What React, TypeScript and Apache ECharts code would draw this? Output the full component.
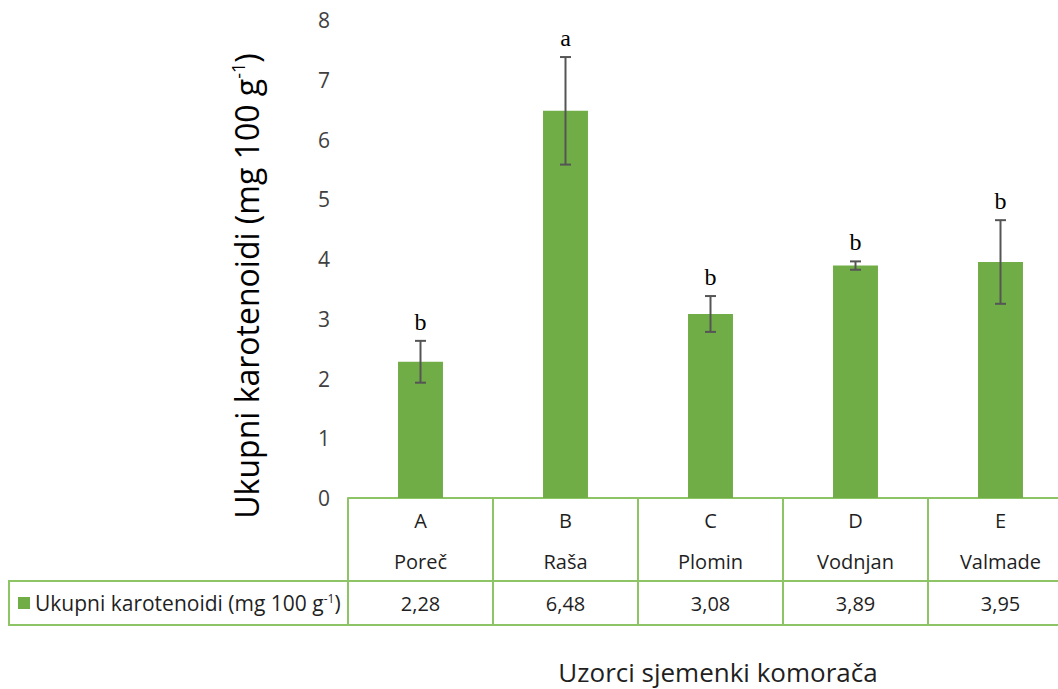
import React, { useEffect, useRef } from "react";
import * as echarts from "echarts";

const categories = ["A", "B", "C", "D", "E"];
const sites = ["Poreč", "Raša", "Plomin", "Vodnjan", "Valmade"];
const values = [2.28, 6.48, 3.08, 3.89, 3.95];
const errors = [0.35, 0.9, 0.3, 0.07, 0.7];
const letters = ["b", "a", "b", "b", "b"];
const seriesName = "Ukupni karotenoidi (mg 100 g";

const BAR = "#70AD47";
const BORDER = "#8cc466";
const ERR = "#555555";
const TXT = "#1f1f1f";
const NARROW = "'Liberation Sans Narrow', 'Open Sans', sans-serif";
const SANS = "'Open Sans', 'DejaVu Sans', sans-serif";
const SERIF = "'Liberation Serif', 'DejaVu Serif', serif";

const fmt = (v: number) => v.toFixed(2).replace(".", ",");

export default function App() {
  const ref = useRef<HTMLDivElement>(null);
  useEffect(() => {
    document.body.style.margin = "0";
    document.body.style.overflow = "hidden";
    const chart = echarts.init(ref.current!, null, { renderer: "svg" });
    const option: any = {
      animation: false,
      grid: { left: 348, top: 20, right: 2, bottom: 191 },
      xAxis: {
        type: "category",
        data: categories,
        axisLine: { show: true, lineStyle: { color: BORDER, width: 2 } },
        axisTick: { show: true, interval: 0, length: 127, lineStyle: { color: BORDER, width: 2 } },
        axisLabel: {
          interval: 0,
          margin: 2,
          fontSize: 20,
          lineHeight: 41,
          fontFamily: NARROW,
          color: TXT,
          formatter: (v: string, i: number) => `${v}\n${sites[i]}`,
        },
      },
      yAxis: {
        type: "value",
        min: 0,
        max: 8,
        interval: 1,
        axisLine: { show: false },
        axisTick: { show: false },
        splitLine: { show: false },
        axisLabel: { fontSize: 21, fontFamily: NARROW, color: "#404040", margin: 18 },
      },
      series: [
        {
          type: "bar",
          name: seriesName,
          data: values,
          barWidth: "31%",
          itemStyle: { color: BAR },
        },
        {
          type: "custom",
          data: values.map((v, i) => [i, v, errors[i]]),
          z: 10,
          renderItem: (params: any, api: any) => {
            const i = api.value(0);
            const v = api.value(1);
            const e = api.value(2);
            const top = api.coord([i, v + e]);
            const bot = api.coord([i, v - e]);
            const x = top[0];
            const cap = 5.5;
            const cs = params.coordSys;
            const baseY = cs.y + cs.height;
            const ls = { stroke: ERR, lineWidth: 2 };
            return {
              type: "group",
              children: [
                { type: "line", shape: { x1: x, y1: top[1], x2: x, y2: bot[1] }, style: ls },
                { type: "line", shape: { x1: x - cap, y1: top[1], x2: x + cap, y2: top[1] }, style: ls },
                { type: "line", shape: { x1: x - cap, y1: bot[1], x2: x + cap, y2: bot[1] }, style: ls },
                {
                  type: "text",
                  x,
                  y: top[1] - 7,
                  style: {
                    text: letters[i],
                    font: `24px ${SERIF}`,
                    fill: "#000",
                    align: "center",
                    verticalAlign: "bottom",
                    textAlign: "center",
                    textVerticalAlign: "bottom",
                  },
                },
                {
                  type: "text",
                  x,
                  y: baseY + 105,
                  style: {
                    text: fmt(values[i]),
                    font: `20px ${NARROW}`,
                    fill: TXT,
                    align: "center",
                    verticalAlign: "middle",
                    textAlign: "center",
                    textVerticalAlign: "middle",
                  },
                },
              ],
            };
          },
        },
      ],
      graphic: [
        { type: "line", shape: { x1: 8, y1: 581, x2: 1075, y2: 581 }, style: { stroke: BORDER, lineWidth: 2 } },
        { type: "line", shape: { x1: 8, y1: 625, x2: 1075, y2: 625 }, style: { stroke: BORDER, lineWidth: 2 } },
        { type: "line", shape: { x1: 9, y1: 581, x2: 9, y2: 625 }, style: { stroke: BORDER, lineWidth: 2 } },
        { type: "rect", shape: { x: 18, y: 597, width: 12, height: 12 }, style: { fill: BAR } },
        {
          type: "text",
          x: 35,
          y: 603,
          style: {
            text: `{a|${seriesName}}{s|-1}{a|)}`,
            rich: {
              a: { fontSize: 21, fontFamily: NARROW, fill: TXT, color: TXT },
              s: { fontSize: 12, fontFamily: NARROW, fill: TXT, color: TXT, padding: [0, 0, 10, 0] },
            },
            align: "left",
            verticalAlign: "middle",
            textAlign: "left",
            textVerticalAlign: "middle",
          },
        },
        {
          type: "text",
          x: 246,
          y: 286,
          rotation: Math.PI / 2,
          style: {
            text: `{a|Ukupni karotenoidi (mg 100 g}{s|-1}{a|)}`,
            rich: {
              a: { fontSize: 32, fontFamily: SANS, fill: "#000", color: "#000" },
              s: { fontSize: 18, fontFamily: SANS, fill: "#000", color: "#000", padding: [0, 0, 16, 0] },
            },
            align: "center",
            verticalAlign: "middle",
            textAlign: "center",
            textVerticalAlign: "middle",
          },
        },
        {
          type: "text",
          x: 718,
          y: 672,
          style: {
            text: "Uzorci sjemenki komorača",
            font: `26px ${NARROW}`,
            fill: TXT,
            align: "center",
            verticalAlign: "middle",
            textAlign: "center",
            textVerticalAlign: "middle",
          },
        },
      ],
    };
    chart.setOption(option);
    return () => chart.dispose();
  }, []);
  return <div ref={ref} style={{ width: 1075, height: 689 }} />;
}
